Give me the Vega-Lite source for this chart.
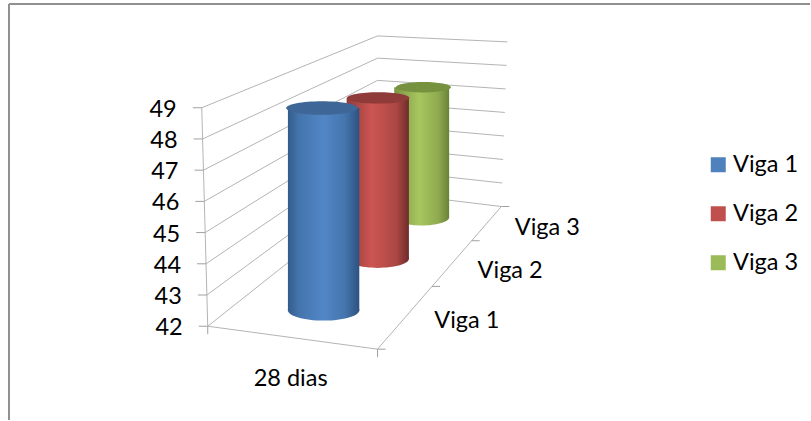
{
  "$schema": "https://vega.github.io/schema/vega-lite/v6.json",
  "width": 811,
  "height": 421,
  "padding": 0,
  "autosize": {"type": "fit", "contains": "padding"},
  "background": "white",
  "config": {"view": {"stroke": null}, "font": "Lato"},
  "data": {"values": [
    {"tipo": "cilindro", "serie": "Viga 1", "valor": 48.7},
    {"tipo": "cilindro", "serie": "Viga 2", "valor": 48.0},
    {"tipo": "cilindro", "serie": "Viga 3", "valor": 47.4},
    {"tipo": "categoria", "serie": "Viga 1"},
    {"tipo": "categoria", "serie": "Viga 2"},
    {"tipo": "categoria", "serie": "Viga 3"},
    {"tipo": "categoria_x", "rotulo": "28 dias"},
    {"tipo": "divisa", "ordem": 0},
    {"tipo": "divisa", "ordem": 1},
    {"tipo": "divisa", "ordem": 2},
    {"tipo": "divisa", "ordem": 3},
    {"tipo": "divisa_x", "ordem": 0},
    {"tipo": "divisa_x", "ordem": 1},
    {"tipo": "piso", "vertice": 0},
    {"tipo": "piso", "vertice": 1},
    {"tipo": "piso", "vertice": 2},
    {"tipo": "moldura"},
    {"tipo": "grade", "valor": 42, "vertice": 0},
    {"tipo": "grade", "valor": 42, "vertice": 1},
    {"tipo": "grade", "valor": 42, "vertice": 2},
    {"tipo": "grade", "valor": 43, "vertice": 0},
    {"tipo": "grade", "valor": 43, "vertice": 1},
    {"tipo": "grade", "valor": 43, "vertice": 2},
    {"tipo": "grade", "valor": 44, "vertice": 0},
    {"tipo": "grade", "valor": 44, "vertice": 1},
    {"tipo": "grade", "valor": 44, "vertice": 2},
    {"tipo": "grade", "valor": 45, "vertice": 0},
    {"tipo": "grade", "valor": 45, "vertice": 1},
    {"tipo": "grade", "valor": 45, "vertice": 2},
    {"tipo": "grade", "valor": 46, "vertice": 0},
    {"tipo": "grade", "valor": 46, "vertice": 1},
    {"tipo": "grade", "valor": 46, "vertice": 2},
    {"tipo": "grade", "valor": 47, "vertice": 0},
    {"tipo": "grade", "valor": 47, "vertice": 1},
    {"tipo": "grade", "valor": 47, "vertice": 2},
    {"tipo": "grade", "valor": 48, "vertice": 0},
    {"tipo": "grade", "valor": 48, "vertice": 1},
    {"tipo": "grade", "valor": 48, "vertice": 2},
    {"tipo": "grade", "valor": 49, "vertice": 0},
    {"tipo": "grade", "valor": 49, "vertice": 1},
    {"tipo": "grade", "valor": 49, "vertice": 2}
  ]},
  "transform": [
    {"calculate": "indexof(['Viga 1','Viga 2','Viga 3'], datum.serie)", "as": "faixa"},
    {"calculate": "datum.tipo=='cilindro' ? 0.51 : datum.tipo=='categoria_x' ? 0.5 : datum.tipo=='grade' ? (datum.vertice==2 ? 1 : 0) : datum.tipo=='piso' ? (datum.vertice>=1 ? 1 : 0) : datum.tipo=='divisa' || datum.tipo=='categoria' ? 1 : datum.tipo=='divisa_x' ? datum.ordem : 0", "as": "u"},
    {"calculate": "datum.tipo=='cilindro' ? [0.2,0.57,0.87][datum.faixa] : datum.tipo=='categoria' ? [0.22,0.57,0.87][datum.faixa] : datum.tipo=='grade' ? (datum.vertice>=1 ? 1 : 0) : datum.tipo=='piso' ? (datum.vertice==2 ? 1 : 0) : datum.tipo=='divisa' ? [0,0.44,0.76,1][datum.ordem] : 0", "as": "d"},
    {"calculate": "isValid(datum.valor) ? (datum.valor-42)/7 : 0", "as": "v"},
    {"calculate": "(1-datum.d)*((1-datum.u)*208+datum.u*378)+datum.d*((1-datum.u)*378+datum.u*502)", "as": "px0"},
    {"calculate": "(1-datum.d)*((1-datum.u)*327+datum.u*350)+datum.d*((1-datum.u)*192+datum.u*207)", "as": "py0"},
    {"calculate": "(1-datum.d)*((1-datum.u)*202+datum.u*378)+datum.d*((1-datum.u)*378+datum.u*508)", "as": "px1"},
    {"calculate": "(1-datum.d)*((1-datum.u)*108+datum.u*120)+datum.d*((1-datum.u)*36+datum.u*42)", "as": "py1"},
    {"calculate": "datum.px0+(datum.px1-datum.px0)*datum.v", "as": "px"},
    {"calculate": "datum.py0+(datum.py1-datum.py0)*datum.v", "as": "py"},
    {"calculate": "38.2-12.3*datum.d", "as": "raio"},
    {"calculate": "datum.px0-datum.raio", "as": "esq"},
    {"calculate": "datum.px0+datum.raio", "as": "dir"},
    {"calculate": "4*datum.raio*datum.raio", "as": "tam"}
  ],
  "encoding": {
    "x": {"field": "px", "type": "quantitative", "axis": null, "scale": {"domain": [0, 811], "nice": false, "zero": false}},
    "y": {"field": "py", "type": "quantitative", "axis": null, "scale": {"domain": [421, 0], "nice": false, "zero": false}}
  },
  "layer": [
    {
      "transform": [{"filter": "datum.tipo=='moldura'"}],
      "mark": {"type": "rule", "color": "#909090", "strokeWidth": 2},
      "encoding": {
        "x": {"datum": 9, "type": "quantitative"},
        "y": {"datum": 4, "type": "quantitative"},
        "y2": {"datum": 421}
      }
    },
    {
      "transform": [{"filter": "datum.tipo=='moldura'"}],
      "mark": {"type": "rule", "color": "#909090", "strokeWidth": 2},
      "encoding": {
        "x": {"datum": 9, "type": "quantitative"},
        "x2": {"datum": 811},
        "y": {"datum": 4, "type": "quantitative"}
      }
    },
    {
      "transform": [{"filter": "datum.tipo=='grade'"}],
      "mark": {"type": "line", "color": "#b4b4b4", "strokeWidth": 1},
      "encoding": {
        "detail": {"field": "valor"},
        "order": {"field": "vertice", "type": "ordinal"}
      }
    },
    {
      "transform": [{"filter": "datum.tipo=='piso'"}],
      "mark": {"type": "line", "color": "#b4b4b4", "strokeWidth": 1},
      "encoding": {"order": {"field": "vertice", "type": "ordinal"}}
    },
    {
      "transform": [{"filter": "datum.tipo=='grade' && datum.vertice==0"}],
      "mark": {"type": "line", "color": "#b4b4b4", "strokeWidth": 1},
      "encoding": {"order": {"field": "valor", "type": "ordinal"}}
    },
    {
      "transform": [
        {"filter": "datum.tipo=='grade' && datum.vertice==0"},
        {"calculate": "datum.px-9", "as": "fim"}
      ],
      "mark": {"type": "rule", "color": "#a0a0a0", "strokeWidth": 1},
      "encoding": {"x2": {"field": "fim"}}
    },
    {
      "transform": [
        {"filter": "datum.tipo=='divisa'"},
        {"calculate": "datum.px+8", "as": "fim"}
      ],
      "mark": {"type": "rule", "color": "#a0a0a0", "strokeWidth": 1},
      "encoding": {"x2": {"field": "fim"}}
    },
    {
      "transform": [
        {"filter": "datum.tipo=='divisa_x'"},
        {"calculate": "datum.py+8", "as": "fim"}
      ],
      "mark": {"type": "rule", "color": "#a0a0a0", "strokeWidth": 1},
      "encoding": {"y2": {"field": "fim"}}
    },
    {
      "transform": [{"filter": "datum.tipo=='cilindro' && datum.serie=='Viga 3'"}],
      "mark": {"type": "point", "filled": true, "opacity": 1, "strokeWidth": 0, "shape": "M-1,0A1,0.3,0,1,1,1,0A1,0.3,0,1,1,-1,0Z",
        "fill": {"gradient": "linear", "x1": 0, "y1": 0, "x2": 1, "y2": 0, "stops": [{"offset": 0, "color": "#7a9445"}, {"offset": 0.45, "color": "#a8c65f"}, {"offset": 0.8, "color": "#8fab50"}, {"offset": 1, "color": "#6a8238"}]}},
      "encoding": {
        "x": {"field": "px0", "type": "quantitative"},
        "y": {"field": "py0", "type": "quantitative"},
        "size": {"field": "tam", "type": "quantitative", "scale": null, "legend": null}
      }
    },
    {
      "transform": [{"filter": "datum.tipo=='cilindro' && datum.serie=='Viga 3'"}],
      "mark": {"type": "rect",
        "fill": {"gradient": "linear", "x1": 0, "y1": 0, "x2": 1, "y2": 0, "stops": [{"offset": 0, "color": "#7a9445"}, {"offset": 0.45, "color": "#a8c65f"}, {"offset": 0.8, "color": "#8fab50"}, {"offset": 1, "color": "#6a8238"}]}},
      "encoding": {
        "x": {"field": "esq", "type": "quantitative"},
        "x2": {"field": "dir"},
        "y2": {"field": "py0"}
      }
    },
    {
      "transform": [{"filter": "datum.tipo=='cilindro' && datum.serie=='Viga 3'"}],
      "mark": {"type": "point", "filled": true, "opacity": 1, "strokeWidth": 0, "fill": "#76923f", "shape": "M-1,0A1,0.19,0,1,1,1,0A1,0.19,0,1,1,-1,0Z"},
      "encoding": {"size": {"field": "tam", "type": "quantitative", "scale": null, "legend": null}}
    },
    {
      "transform": [{"filter": "datum.tipo=='cilindro' && datum.serie=='Viga 2'"}],
      "mark": {"type": "point", "filled": true, "opacity": 1, "strokeWidth": 0, "shape": "M-1,0A1,0.29,0,1,1,1,0A1,0.29,0,1,1,-1,0Z",
        "fill": {"gradient": "linear", "x1": 0, "y1": 0, "x2": 1, "y2": 0, "stops": [{"offset": 0, "color": "#8f3c3a"}, {"offset": 0.4, "color": "#cc5552"}, {"offset": 0.8, "color": "#ac4744"}, {"offset": 1, "color": "#6e2c2a"}]}},
      "encoding": {
        "x": {"field": "px0", "type": "quantitative"},
        "y": {"field": "py0", "type": "quantitative"},
        "size": {"field": "tam", "type": "quantitative", "scale": null, "legend": null}
      }
    },
    {
      "transform": [{"filter": "datum.tipo=='cilindro' && datum.serie=='Viga 2'"}],
      "mark": {"type": "rect",
        "fill": {"gradient": "linear", "x1": 0, "y1": 0, "x2": 1, "y2": 0, "stops": [{"offset": 0, "color": "#8f3c3a"}, {"offset": 0.4, "color": "#cc5552"}, {"offset": 0.8, "color": "#ac4744"}, {"offset": 1, "color": "#6e2c2a"}]}},
      "encoding": {
        "x": {"field": "esq", "type": "quantitative"},
        "x2": {"field": "dir"},
        "y2": {"field": "py0"}
      }
    },
    {
      "transform": [{"filter": "datum.tipo=='cilindro' && datum.serie=='Viga 2'"}],
      "mark": {"type": "point", "filled": true, "opacity": 1, "strokeWidth": 0, "fill": "#8f3b39", "shape": "M-1,0A1,0.18,0,1,1,1,0A1,0.18,0,1,1,-1,0Z"},
      "encoding": {"size": {"field": "tam", "type": "quantitative", "scale": null, "legend": null}}
    },
    {
      "transform": [{"filter": "datum.tipo=='cilindro' && datum.serie=='Viga 1'"}],
      "mark": {"type": "point", "filled": true, "opacity": 1, "strokeWidth": 0, "shape": "M-1,0A1,0.29,0,1,1,1,0A1,0.29,0,1,1,-1,0Z",
        "fill": {"gradient": "linear", "x1": 0, "y1": 0, "x2": 1, "y2": 0, "stops": [{"offset": 0, "color": "#335c8c"}, {"offset": 0.15, "color": "#4474ac"}, {"offset": 0.5, "color": "#5186c6"}, {"offset": 0.8, "color": "#4575ad"}, {"offset": 1, "color": "#2d5280"}]}},
      "encoding": {
        "x": {"field": "px0", "type": "quantitative"},
        "y": {"field": "py0", "type": "quantitative"},
        "size": {"field": "tam", "type": "quantitative", "scale": null, "legend": null}
      }
    },
    {
      "transform": [{"filter": "datum.tipo=='cilindro' && datum.serie=='Viga 1'"}],
      "mark": {"type": "rect",
        "fill": {"gradient": "linear", "x1": 0, "y1": 0, "x2": 1, "y2": 0, "stops": [{"offset": 0, "color": "#335c8c"}, {"offset": 0.15, "color": "#4474ac"}, {"offset": 0.5, "color": "#5186c6"}, {"offset": 0.8, "color": "#4575ad"}, {"offset": 1, "color": "#2d5280"}]}},
      "encoding": {
        "x": {"field": "esq", "type": "quantitative"},
        "x2": {"field": "dir"},
        "y2": {"field": "py0"}
      }
    },
    {
      "transform": [{"filter": "datum.tipo=='cilindro' && datum.serie=='Viga 1'"}],
      "mark": {"type": "point", "filled": true, "opacity": 1, "strokeWidth": 0, "fill": "#3e6797", "shape": "M-1,0A1,0.19,0,1,1,1,0A1,0.19,0,1,1,-1,0Z"},
      "encoding": {"size": {"field": "tam", "type": "quantitative", "scale": null, "legend": null}}
    },
    {
      "transform": [{"filter": "datum.tipo=='grade' && datum.vertice==0"}],
      "mark": {"type": "text", "align": "right", "baseline": "middle", "dx": -25, "dy": 2, "fontSize": 23.5, "font": "Lato", "color": "black"},
      "encoding": {"text": {"field": "valor", "type": "quantitative"}}
    },
    {
      "transform": [{"filter": "datum.tipo=='categoria'"}],
      "mark": {"type": "text", "align": "center", "baseline": "middle", "dx": 62, "dy": 3, "fontSize": 23.5, "font": "Lato", "color": "black"},
      "encoding": {"text": {"field": "serie", "type": "nominal"}}
    },
    {
      "transform": [{"filter": "datum.tipo=='categoria_x'"}],
      "mark": {"type": "text", "align": "center", "baseline": "middle", "dx": -2, "dy": 41, "fontSize": 23.5, "font": "Lato", "color": "black"},
      "encoding": {"text": {"field": "rotulo", "type": "nominal"}}
    },
    {
      "transform": [{"filter": "datum.tipo=='cilindro'"}],
      "mark": {"type": "point", "filled": true, "size": 0, "opacity": 1},
      "encoding": {
        "color": {
          "field": "serie",
          "type": "nominal",
          "scale": {"domain": ["Viga 1", "Viga 2", "Viga 3"], "range": ["#4F81BD", "#C0504D", "#9BBB59"]},
          "legend": {
            "title": null,
            "orient": "none",
            "legendX": 706.5,
            "legendY": 153,
            "symbolType": "square",
            "symbolSize": 225,
            "symbolStrokeWidth": 0,
            "symbolOpacity": 1,
            "labelFont": "Lato",
            "labelFontSize": 23.5,
            "labelColor": "black",
            "labelOffset": 3,
            "rowPadding": 24,
            "padding": 0
          }
        }
      }
    }
  ]
}
